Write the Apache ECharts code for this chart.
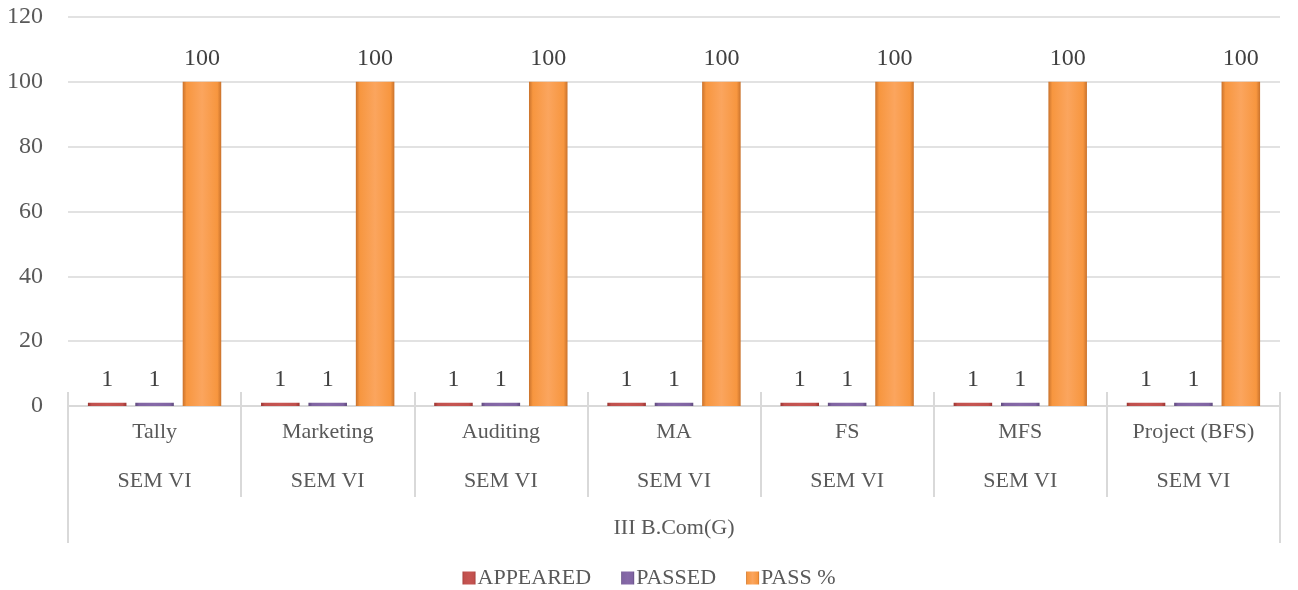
<!DOCTYPE html>
<html>
<head>
<meta charset="utf-8">
<script src="https://cdn.jsdelivr.net/npm/echarts@6/dist/echarts.min.js"></script>
<style>html,body{margin:0;padding:0;background:#fff}#c{width:1298px;height:590px}</style>
</head>
<body>
<div id="c"></div>
<script>
const subjects = ['Tally','Marketing','Auditing','MA','FS','MFS','Project (BFS)'];
const semesters = ['SEM VI','SEM VI','SEM VI','SEM VI','SEM VI','SEM VI','SEM VI'];
const groups = ['III B.Com(G)'];
const appeared = [1,1,1,1,1,1,1];
const passed = [1,1,1,1,1,1,1];
const passPct = [100,100,100,100,100,100,100];
const yTicks = [0,20,40,60,80,100,120];

const FONT = 'Liberation Serif';
const TXT = '#595959';
const LINE = '#d9d9d9';

function grad(dark, top, bottom){
  return new echarts.graphic.LinearGradient(0,0,1,0,[
    {offset:0,color:dark},{offset:0.1,color:top},{offset:0.5,color:bottom},{offset:0.9,color:top},{offset:1,color:dark}
  ]);
}
const chart = echarts.init(document.getElementById('c'));
const lbl = {show:true, position:'top', distance:11, fontFamily:FONT, fontSize:24, color:'#404040'};
chart.setOption({
  animation:false,
  textStyle:{fontFamily:FONT},
  grid:{left:68, right:18, top:17, bottom:184, containLabel:false},
  legend:{
    top:562, left:'center', itemWidth:13, itemHeight:13, itemGap:30, icon:'rect',
    textStyle:{fontFamily:FONT, fontSize:22, color:TXT, padding:[0,0,0,-3]},
    data:['APPEARED','PASSED','PASS %']
  },
  yAxis:{
    type:'value', min:yTicks[0], max:yTicks[yTicks.length-1], interval:20,
    axisLine:{show:false}, axisTick:{show:false},
    axisLabel:{fontFamily:FONT, fontSize:24, color:TXT, margin:25},
    splitLine:{lineStyle:{color:LINE, width:1.5}}
  },
  xAxis:[
    {type:'category', data:subjects, position:'bottom',
     axisLine:{lineStyle:{color:LINE, width:2}},
     axisTick:{show:true, inside:true, length:14, interval:0, lineStyle:{color:LINE, width:2}},
     axisLabel:{fontFamily:FONT, fontSize:22, color:TXT, margin:15, interval:0}},
    {type:'category', data:semesters, position:'bottom',
     axisLine:{show:false},
     axisTick:{show:true, length:91, interval:0, lineStyle:{color:LINE, width:2}},
     axisLabel:{fontFamily:FONT, fontSize:22, color:TXT, margin:64, interval:0}},
    {type:'category', data:groups, position:'bottom',
     axisLine:{show:false},
     axisTick:{show:true, length:137, interval:0, lineStyle:{color:LINE, width:2}},
     axisLabel:{fontFamily:FONT, fontSize:22, color:TXT, margin:111, interval:0}}
  ],
  series:[
    {name:'APPEARED', type:'bar', data:appeared, xAxisIndex:0, barGap:'23%', barCategoryGap:'23%',
     itemStyle:{color:grad('#9b3431','#c0504d','#c65552')}, label:lbl},
    {name:'PASSED', type:'bar', data:passed, xAxisIndex:0,
     itemStyle:{color:grad('#5f4a7d','#8064a2','#8669a8')}, label:lbl},
    {name:'PASS %', type:'bar', data:passPct, xAxisIndex:0,
     itemStyle:{color:grad('#c9722c','#f7963f','#fba55e')}, label:lbl}
  ]
});
</script>
</body>
</html>
